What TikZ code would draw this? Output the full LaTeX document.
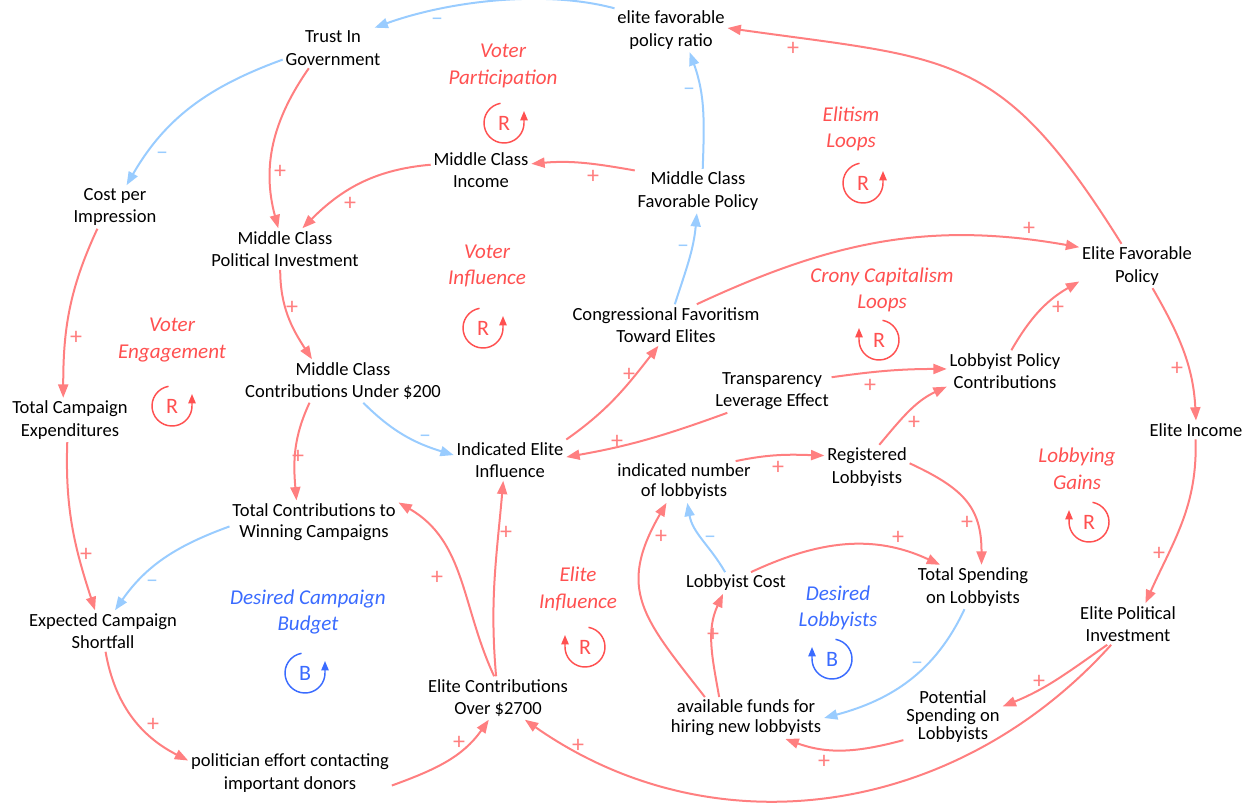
\documentclass[tikz,border=0pt]{standalone}
\usepackage{fontspec}
\setmainfont{Carlito}
\usetikzlibrary{arrows.meta}
\definecolor{linkred}{HTML}{FF7F80}
\definecolor{linkblue}{HTML}{99CCFF}
\definecolor{loopred}{HTML}{FF5050}
\definecolor{loopblue}{HTML}{3A6BFF}

\begin{document}
\begin{tikzpicture}[
        x=0.75pt, y=0.75pt,
        var/.style={
            align=center,
            inner sep=2pt,
            font=\fontsize{13.9}{17}\selectfont
        },
        looplabel/.style={align=center, inner sep=1pt, text=loopred,
            font=\fontsize{15.8}{20}\selectfont\itshape},
        loopsym/.style={inner sep=0pt, text=loopred, font=\fontsize{16.5}{18}\selectfont},
        looparc/.style={-{Triangle[length=7pt,width=5.5pt]}, line width=1.1pt, draw=loopred},
        poslink/.style={-{Triangle[length=10pt,width=7.5pt]}, line width=1.5pt, draw=linkred},
        neglink/.style={-{Triangle[length=10pt,width=7.5pt]}, line width=1.5pt, draw=linkblue},
        sgn/.style={inner sep=0pt, font=\fontsize{18}{18}\selectfont}
    ]
        \useasboundingbox (0,0) rectangle (1251,-809);

        % variables
        \node[var] (trust) at (333,-48) {Trust In\\Government};
        \node[var] (efpr) at (671,-30) {elite favorable\\policy ratio};
        \node[var] (cpi) at (115,-207) {Cost per\\Impression};
        \node[var] (mcpi) at (285,-249) {Middle Class\\Political Investment};
        \node[var] (mci) at (481,-170) {Middle Class\\Income};
        \node[var] (mcfp) at (698,-191) {Middle Class\\Favorable Policy};
        \node[var] (efp) at (1137,-266) {Elite Favorable\\Policy};
        \node[var] (cfte) at (666,-325) {Congressional Favoritism\\Toward Elites};
        \node[var] (mccu) at (343,-381) {Middle Class\\Contributions Under \$200};
        \node[var] (tce) at (70,-420) {Total Campaign\\Expenditures};
        \node[var] (tle) at (772,-391) {Transparency\\Leverage Effect};
        \node[var] (lpc) at (1005,-371) {Lobbyist Policy\\Contributions};
        \node[var] (iei) at (510,-460) {Indicated Elite\\Influence};
        \node[var, font=\fontsize{13.9}{15}\selectfont] (inl) at (684,-482) {indicated number\\of lobbyists};
        \node[var] (rl) at (867,-467) {Registered\\Lobbyists};
        \node[var] (ei) at (1196,-430) {Elite Income};
        \node[var, font=\fontsize{13.9}{16}\selectfont] (tcwc) at (314,-522) {Total Contributions to\\Winning Campaigns};
        \node[var] (lc) at (736,-583) {Lobbyist Cost};
        \node[var] (tsl) at (973,-587) {Total Spending\\on Lobbyists};
        \node[var] (ecs) at (103,-631) {Expected Campaign\\Shortfall};
        \node[var] (epi) at (1128,-624) {Elite Political\\Investment};
        \node[var] (ec) at (498,-698) {Elite Contributions\\Over \$2700};
        \node[var, font=\fontsize{13.9}{15}\selectfont] (afh) at (746,-718) {available funds for\\hiring new lobbyists};
        \node[var, font=\fontsize{13.9}{13.5}\selectfont] (psl) at (953,-717) {Potential\\Spending on\\Lobbyists};
        \node[var] (pec) at (290,-773) {politician effort contacting\\important donors};

        % loop names
        \node[looplabel] (vp) at (503,-66) {Voter\\Participation};
        \node[looplabel] (el) at (851,-129) {Elitism\\Loops};
        \node[looplabel] (vi) at (487,-266) {Voter\\Influence};
        \node[looplabel] (cc) at (882,-290) {Crony Capitalism\\Loops};
        \node[looplabel] (ve) at (172,-340) {Voter\\Engagement};
        \node[looplabel] (lg) at (1077,-469) {Lobbying\\Gains};
        \node[looplabel] (eil) at (578,-589) {Elite\\Influence};
        \node[looplabel, text=loopblue] (dcb) at (308,-612) {Desired Campaign\\Budget};
        \node[looplabel, text=loopblue] (dl) at (838,-608) {Desired\\Lobbyists};

        % loop symbols
        \foreach \x/\y/\l/\c [count=\k] in {504/123/R/loopred, 863/183/R/loopred, 483/328/R/loopred,
            172/406/R/loopred, 305/673/B/loopblue} {
            \node[loopsym, text=\c] (cw\k) at (\x,-\y) {\l};
            \draw[looparc, draw=\c] (cw\k.center) ++(100:20) arc[start angle=100, end angle=360, radius=20] -- ++(0,12);
        }
        \foreach \x/\y/\l/\c [count=\k] in {879/340/R/loopred, 1089/522/R/loopred, 585/647/R/loopred,
            832/659/B/loopblue} {
            \node[loopsym, text=\c] (ccw\k) at (\x,-\y) {\l};
            \draw[looparc, draw=\c] (ccw\k.center) ++(80:20) arc[start angle=80, end angle=-180, radius=20] -- ++(0,12);
        }

        % links
        \draw[neglink] (efpr.159) to[out=165,in=20,looseness=.8] (trust.26);
        \draw[neglink] (trust.193) to[out=200,in=60] (cpi.62);
        \draw[poslink] (trust.220) to[out=235,in=105] (mcpi.108);
        \draw[poslink] (mci.174) to[out=185,in=45] (mcpi.50);
        \draw[poslink] (mcfp.162) to[out=170,in=5] (mci.7);
        \draw[neglink] (mcfp.78) to[out=88,in=-70] (efpr.-50);
        \draw[neglink] (cfte.67) to[out=72,in=-95] (mcfp.-93);
        \draw[poslink] (efp.125) to[out=122,in=-8,looseness=1.3] (efpr.2);
        \draw[poslink] (cfte.34) to[out=25,in=170] (efp.162);
        \draw[poslink] (mcpi.-103) to[out=-90,in=123] (mccu.145);
        \draw[poslink] (mccu.213) to[out=245,in=95] (tcwc.129);
        \draw[neglink] (mccu.-47) to[out=-45,in=163] (iei.175);
        \draw[poslink] (iei.20) to[out=35,in=-128] (cfte.-110);
        \draw[poslink] (tle.206) to[out=200,in=10] (iei.3);
        \draw[poslink] (tle.13) to[out=8,in=180] (lpc.178);
        \draw[poslink] (lpc.73) to[out=60,in=210] (efp.195);
        \draw[poslink] (rl.61) to[out=50,in=205] (lpc.195);
        \draw[poslink] (efp.-55) to[out=-60,in=93] (ei.90);
        \draw[poslink] (ei.-93) to[out=-88,in=66] (epi.50);
        \draw[poslink] (inl.22) to[out=12,in=178] (rl.165);
        \draw[poslink] (rl.5) to[out=-25,in=90,looseness=1.2] (tsl.69);
        \draw[poslink] (lc.36) to[out=25,in=155] (tsl.146);
        \draw[neglink] (lc.135) to[out=120,in=-80] (inl.-81);
        \draw[poslink] (afh.142) to[out=100,in=245] (lc.220);
        \draw[poslink] (afh.153) to[out=128,in=240,looseness=1.3] (inl.230);
        \draw[neglink] (tsl.249) to[out=245,in=15] (afh.0);
        \draw[poslink] (psl.205) to[out=195,in=-20] (afh.-28);
        \draw[poslink] (epi.225) to[out=215,in=22] (psl.12);
        \draw[poslink] (epi.231) to[out=228,in=-35] (ec.-39);
        \draw[poslink] (tce.-97) to[out=-92,in=108] (ecs.111);
        \draw[poslink] (cpi.231) to[out=245,in=90] (tce.107);
        \draw[neglink] (tcwc.183) to[out=200,in=55] (ecs.60);
        \draw[poslink] (ecs.-83) to[out=-80,in=153] (pec.173);
        \draw[poslink] (pec.-7) to[out=20,in=235] (ec.-113);
        \draw[poslink] (ec.100) to[out=115,in=-30] (tcwc.13);
        \draw[poslink] (ec.95) to[out=95,in=265] (iei.-108);

        % polarities
        \foreach \x/\y/\s/\c [count=\k] in {437/22/–/linkblue, 162/156/–/linkblue, 280/172/+/linkred,
            350/204/+/linkred, 593/177/+/linkred, 689/92/–/linkblue, 683/249/–/linkblue,
            793/49/+/linkred, 1029/229/+/linkred, 292/308/+/linkred, 298/457/+/linkred,
            425/439/–/linkblue, 629/375/+/linkred, 617/442/+/linkred, 870/386/+/linkred,
            1058/308/+/linkred, 914/423/+/linkred, 1177/369/+/linkred, 1159/554/+/linkred,
            778/468/+/linkred, 967/523/+/linkred, 898/538/+/linkred, 710/540/–/linkblue,
            713/635/+/linkred, 661/537/+/linkred, 917/666/–/linkblue, 824/762/+/linkred,
            1039/682/+/linkred, 578/746/+/linkred, 86/555/+/linkred, 76/338/+/linkred,
            152/584/–/linkblue, 153/725/+/linkred, 459/743/+/linkred, 437/578/+/linkred,
            506/533/+/linkred} {
            \node[sgn, text=\c] (sg\k) at (\x,-\y) {\s};
        }
\end{tikzpicture}
\end{document}
